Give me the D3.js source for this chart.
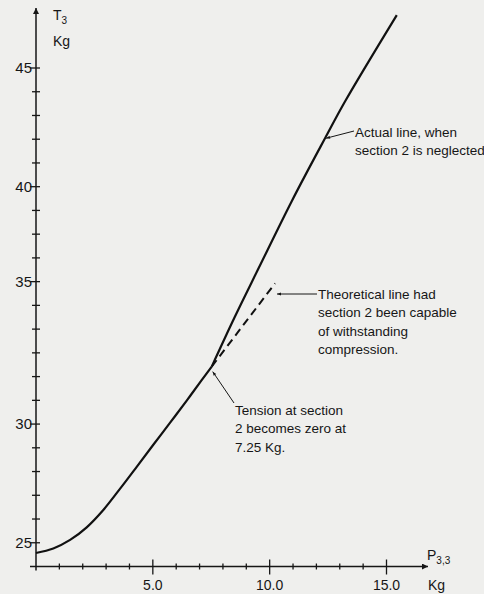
<!doctype html>
<html>
<head>
   <style>
      body { margin: 0; background: #efefed; }
      svg { display: block; }
      text { font-family: "Liberation Sans", Arial, sans-serif; fill: #161616; }
   </style>
   <script src="https://d3js.org/d3.v7.min.js"></script>
</head>
<body>
<svg width="484" height="594"></svg>
<script>
   // curve below the kink (P in Kg, T in Kg)
   var lowerP = [0, 0.74, 1.46, 2.17, 2.88, 3.60, 4.31, 5.02, 5.74, 6.45, 7.09, 7.52];
   var lowerT = [24.57, 24.76, 25.12, 25.65, 26.38, 27.28, 28.20, 29.13, 30.06, 30.99, 31.85, 32.42];
   // actual line above the kink
   var upperP = [7.52, 8.50, 9.52, 10.95, 12.37, 13.23, 15.44];
   var upperT = [32.42, 34.50, 36.55, 39.40, 42.04, 43.60, 47.23];
   // theoretical (dashed) line
   var theoP = [7.52, 10.23];
   var theoT = [32.42, 35.93];

   var xMinor = d3.range(1, 16);
   var xLabels = [5, 10, 15];
   var xLabelText = ["5.0", "10.0", "15.0"];
   var yMinor = d3.range(25, 46);
   // the printed figure puts its "35" against the 36 tick
   var yLabels = [25, 30, 36, 40, 45];
   var yLabelText = ["25", "30", "35", "40", "45"];

   var svg = d3.select("svg");
   var x = d3.scaleLinear().domain([0, 15]).range([36, 386.5]);
   var y = d3.scaleLinear().domain([24, 45]).range([566.5, 68]);
   var x0 = x(0), y0 = y(24);

   var defs = svg.append("defs");
   defs.append("marker").attr("id", "axhead")
      .attr("viewBox", "0 0 10 10").attr("refX", 10).attr("refY", 5)
      .attr("markerWidth", 16).attr("markerHeight", 6).attr("orient", "auto")
      .attr("markerUnits", "userSpaceOnUse")
      .append("path").attr("d", "M0,0L10,5L0,10z").attr("fill", "#161616");
   defs.append("marker").attr("id", "smallhead")
      .attr("viewBox", "0 0 10 10").attr("refX", 10).attr("refY", 5)
      .attr("markerWidth", 8).attr("markerHeight", 4).attr("orient", "auto")
      .attr("markerUnits", "userSpaceOnUse")
      .append("path").attr("d", "M0,1L10,5L0,9z").attr("fill", "#161616");

   // axes
   svg.append("line").attr("x1", x0 - 6).attr("x2", 428).attr("y1", y0).attr("y2", y0)
      .attr("stroke", "#161616").attr("stroke-width", 1.5).attr("marker-end", "url(#axhead)");
   svg.append("line").attr("x1", x0).attr("x2", x0).attr("y1", y0 + 4).attr("y2", 8)
      .attr("stroke", "#161616").attr("stroke-width", 1.5).attr("marker-end", "url(#axhead)");

   svg.append("g").selectAll("line").data(xMinor).enter().append("line")
      .attr("x1", d => x(d)).attr("x2", d => x(d))
      .attr("y1", d => y0 - (d % 5 == 0 ? 7 : 3)).attr("y2", d => y0 + (d % 5 == 0 ? 8 : 3))
      .attr("stroke", "#161616").attr("stroke-width", 1.3);
   svg.append("g").selectAll("line").data(yMinor).enter().append("line")
      .attr("y1", d => y(d)).attr("y2", d => y(d))
      .attr("x1", d => x0 - (yLabels.indexOf(d) >= 0 ? 6 : 4)).attr("x2", x0 + 4)
      .attr("stroke", "#161616").attr("stroke-width", 1.3);

   svg.append("g").selectAll("text").data(xLabels).enter().append("text")
      .attr("x", d => x(d)).attr("y", 590).attr("text-anchor", "middle")
      .attr("font-size", 14).text((d, i) => xLabelText[i]);
   svg.append("g").selectAll("text").data(yLabels).enter().append("text")
      .attr("x", x0 - 4).attr("y", d => y(d) + 5).attr("text-anchor", "end")
      .attr("font-size", 15).text((d, i) => yLabelText[i]);

   // axis titles
   var tt = svg.append("text").attr("x", 53).attr("y", 20).attr("font-size", 14);
   tt.append("tspan").text("T");
   tt.append("tspan").attr("dy", 4).attr("font-size", 10).text("3");
   svg.append("text").attr("x", 53).attr("y", 46).attr("font-size", 14).text("Kg");
   var pt = svg.append("text").attr("x", 427).attr("y", 560).attr("font-size", 14);
   pt.append("tspan").text("P");
   pt.append("tspan").attr("dy", 4).attr("font-size", 10).text("3,3");
   svg.append("text").attr("x", 428).attr("y", 590).attr("font-size", 14).text("Kg");

   // curves
   var line = d3.line().x(d => x(d[0])).y(d => y(d[1])).curve(d3.curveCatmullRom.alpha(0.5));
   svg.append("path").datum(d3.zip(lowerP, lowerT)).attr("d", line)
      .attr("fill", "none").attr("stroke", "#111").attr("stroke-width", 2.2);
   svg.append("path").datum(d3.zip(upperP, upperT)).attr("d", line)
      .attr("fill", "none").attr("stroke", "#111").attr("stroke-width", 2.2);
   svg.append("path").datum(d3.zip(theoP, theoT)).attr("d", d3.line().x(d => x(d[0])).y(d => y(d[1])))
      .attr("fill", "none").attr("stroke", "#111").attr("stroke-width", 2)
      .attr("stroke-dasharray", "8,5");

   // annotations
   function note(lines, tx, ty, from, to) {
      svg.append("line").attr("x1", from[0]).attr("y1", from[1]).attr("x2", to[0]).attr("y2", to[1])
         .attr("stroke", "#161616").attr("stroke-width", 1).attr("marker-end", "url(#smallhead)");
      svg.append("g").selectAll("text").data(lines).enter().append("text")
         .attr("x", tx).attr("y", (d, i) => ty + i * 18.3)
         .attr("font-size", 13.5).text(d => d);
   }
   note(["Actual line, when", "section 2 is neglected"], 355, 136.5,
      [354, 131], [x(12.37) + 1, y(42.04)]);
   note(["Theoretical line had", "section 2 been capable", "of withstanding", "compression."], 318, 299,
      [317, 294], [277, 294]);
   note(["Tension at section", "2 becomes zero at", "7.25  Kg."], 235, 415,
      [234, 403], [x(7.52) + 1, y(32.42) + 5]);
</script>
</body>
</html>
